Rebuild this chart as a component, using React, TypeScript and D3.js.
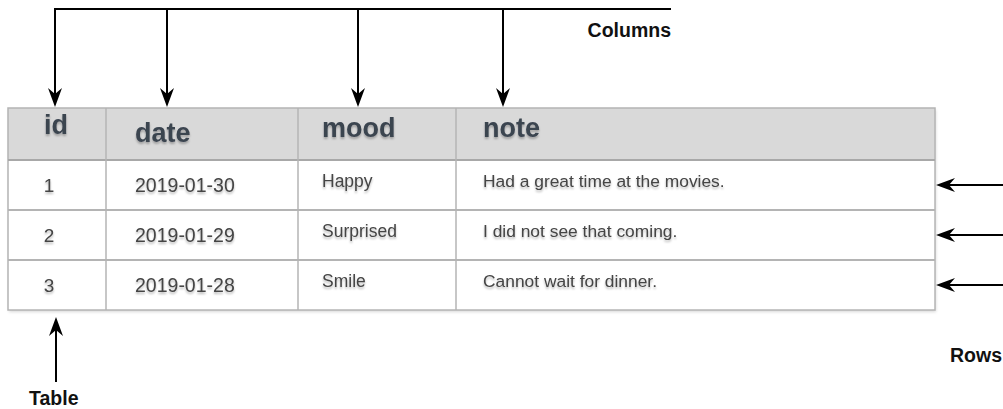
import React from 'react';
import * as d3 from 'd3';

// table content
const columns = ['id', 'date', 'mood', 'note'];
const ids = ['1', '2', '3'];
const dates = ['2019-01-30', '2019-01-29', '2019-01-28'];
const moods = ['Happy', 'Surprised', 'Smile'];
const notes = ['Had a great time at the movies.', 'I did not see that coming.', 'Cannot wait for dinner.'];

// annotation labels
const columnsLabel = 'Columns';
const rowsLabel = 'Rows';
const tableLabel = 'Table';

const W = 1003;
const H = 409;

const App = () => {
    const rows = ids.map((id, i) => ({ id, date: dates[i], mood: moods[i], note: notes[i] }));

    /* column edges of the table */
    const colX = d3.scaleOrdinal<string, number>().domain([...columns, 'end']).range([8, 106, 298, 456, 935]);
    const colRight = (c: string) => colX(columns[columns.indexOf(c) + 1] ?? 'end');
    /* row bands: header then data rows */
    const headerTop = 108;
    const headerBottom = 160;
    const rowY = d3.scaleBand<number>().domain(rows.map((_, i) => i)).range([headerBottom, 310]).paddingInner(0);

    /* arrow x for each column */
    const arrowX = d3.scaleOrdinal<string, number>().domain(columns).range([55, 167, 358, 503]);
    const topY = 9;
    const tipY = 107;

    const headerStyle: Record<string, { x: number; anchor: string; base: number }> = {
        id: { x: 56, anchor: 'middle', base: 134 },
        date: { x: 135, anchor: 'start', base: 142 },
        mood: { x: 322, anchor: 'start', base: 137 },
        note: { x: 483, anchor: 'start', base: 137 },
    };

    const down = (x: number, y: number) => `M${x},${y} L${x - 7},${y - 19} L${x},${y - 13} L${x + 7},${y - 19} Z`;
    const left = (x: number, y: number) => `M${x},${y} L${x + 19},${y - 7} L${x + 13},${y} L${x + 19},${y + 7} Z`;
    const up = (x: number, y: number) => `M${x},${y} L${x - 7},${y + 19} L${x},${y + 13} L${x + 7},${y + 19} Z`;

    const bodyFont = 'Liberation Sans, Arial, sans-serif';
    const labelFont = 'Liberation Sans, Arial, sans-serif';

    return (
        <svg width={W} height={H} style={{ position: 'absolute', left: 0, top: 0 }}>
            <defs>
                <filter id="txtShadow" x="-10%" y="-30%" width="120%" height="180%">
                    <feDropShadow dx="0" dy="2" stdDeviation="1.3" floodColor="#000" floodOpacity="0.28" />
                </filter>
                <filter id="boxShadow" x="-5%" y="-5%" width="110%" height="120%">
                    <feDropShadow dx="1" dy="2" stdDeviation="1.5" floodColor="#000" floodOpacity="0.15" />
                </filter>
            </defs>
            <rect width={W} height={H} fill="#fff" />

            {/* table */}
            <g filter="url(#boxShadow)">
                <rect x={colX('id')} y={headerTop} width={colX('end') - colX('id')} height={310 - headerTop} fill="#fff" />
            </g>
            <rect x={colX('id')} y={headerTop} width={colX('end') - colX('id')} height={headerBottom - headerTop} fill="#d9d9d9" />
            <g stroke="#b4b4b4" strokeWidth={1.5} fill="none">
                <rect x={colX('id')} y={headerTop} width={colX('end') - colX('id')} height={310 - headerTop} />
                <line x1={colX('id')} x2={colX('end')} y1={headerBottom} y2={headerBottom} stroke="#a8a8a8" strokeWidth={2} />
                {rows.slice(1).map((_, i) => (
                    <line key={i} x1={colX('id')} x2={colX('end')} y1={rowY(i + 1)} y2={rowY(i + 1)} strokeWidth={2} />
                ))}
                {columns.slice(1).map(c => (
                    <line key={c} x1={colX(c)} x2={colX(c)} y1={headerTop} y2={310} />
                ))}
            </g>

            <g filter="url(#txtShadow)">
                {columns.map(c => (
                    <text key={c} x={headerStyle[c].x} y={headerStyle[c].base} textAnchor={headerStyle[c].anchor}
                        fontFamily={bodyFont} fontWeight="bold" fontSize={27} fill="#3b4450">{c}</text>
                ))}
                {rows.map((r, i) => {
                    const y0 = rowY(i) as number;
                    return (
                        <g key={r.id} fill="#444" fontFamily={bodyFont}>
                            <text x={(colX('id') + colRight('id')) / 2 - 8} y={y0 + 32} textAnchor="middle" fontSize={19}>{r.id}</text>
                            <text x={colX('date') + 29} y={y0 + 32} fontSize={19.5}>{r.date}</text>
                            <text x={colX('mood') + 24} y={y0 + 27} fontSize={17.5}>{r.mood}</text>
                            <text x={colX('note') + 27} y={y0 + 27} fontSize={17.4}>{r.note}</text>
                        </g>
                    );
                })}
            </g>

            {/* column arrows */}
            <g stroke="#000" strokeWidth={2} fill="none">
                <line x1={arrowX('id') - 1} x2={671} y1={topY} y2={topY} />
                {columns.map(c => (
                    <line key={c} x1={arrowX(c)} x2={arrowX(c)} y1={topY} y2={tipY - 12} />
                ))}
            </g>
            {columns.map(c => <path key={c} d={down(arrowX(c), tipY)} fill="#000" />)}
            <text x={671} y={37} textAnchor="end" fontFamily={labelFont} fontWeight="bold" fontSize={19.5} fill="#111">{columnsLabel}</text>

            {/* row arrows */}
            {rows.map((_, i) => {
                const y = (rowY(i) as number) + rowY.bandwidth() / 2;
                return (
                    <g key={i}>
                        <line x1={948} x2={W} y1={y} y2={y} stroke="#000" strokeWidth={2} />
                        <path d={left(936, y)} fill="#000" />
                    </g>
                );
            })}
            <text x={950} y={362} fontFamily={labelFont} fontWeight="bold" fontSize={19.5} fill="#111">{rowsLabel}</text>

            {/* table arrow */}
            <line x1={56} x2={56} y1={328} y2={382} stroke="#000" strokeWidth={2} />
            <path d={up(56, 317)} fill="#000" />
            <text x={29} y={405} fontFamily={labelFont} fontWeight="bold" fontSize={19.5} fill="#111">{tableLabel}</text>
        </svg>
    );
};

export default App;
